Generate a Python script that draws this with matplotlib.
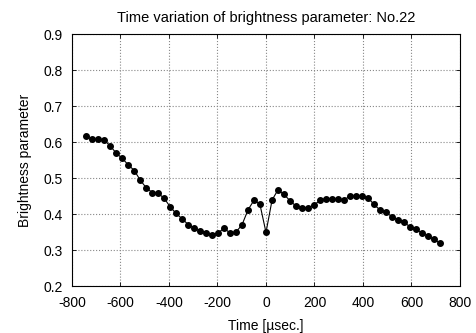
import matplotlib
matplotlib.use("Agg")
import matplotlib.pyplot as plt

times = [-741, -716, -692, -667, -642, -618, -593, -568, -543, -519,
         -494, -469, -445, -420, -395, -371, -346, -321, -296, -272,
         -247, -222, -198, -173, -148, -124, -99, -74, -49, -25,
         0, 25, 49, 74, 99, 124, 148, 173, 198, 222,
         247, 272, 296, 321, 346, 371, 395, 420, 445, 469,
         494, 519, 543, 568, 593, 618, 642, 667, 692, 716]
brightness = [0.616, 0.608, 0.608, 0.606, 0.589, 0.570, 0.555, 0.537, 0.521, 0.495,
              0.473, 0.460, 0.458, 0.444, 0.420, 0.402, 0.387, 0.371, 0.360, 0.353,
              0.348, 0.342, 0.347, 0.361, 0.347, 0.350, 0.370, 0.412, 0.439, 0.427,
              0.349, 0.439, 0.467, 0.455, 0.437, 0.422, 0.418, 0.418, 0.425, 0.438,
              0.443, 0.442, 0.441, 0.440, 0.449, 0.450, 0.450, 0.446, 0.427, 0.412,
              0.405, 0.393, 0.384, 0.378, 0.365, 0.358, 0.348, 0.339, 0.330, 0.320]

xticks = [-800, -600, -400, -200, 0, 200, 400, 600, 800]
yticks = [0.2, 0.3, 0.4, 0.5, 0.6, 0.7, 0.8, 0.9]

plt.rcParams['font.family'] = ['Liberation Sans', 'DejaVu Sans']
fig = plt.figure(figsize=(4.77, 3.33), dpi=100)
ax = fig.add_axes([72/477, 1-286/333, (460-72)/477, (286-34.3)/333])
ax.plot(times, brightness, color='black', linewidth=0.8, marker='o',
        markersize=4.0, markerfacecolor='black', markeredgecolor='black')
ax.set_xlim(-800, 800)
ax.set_ylim(0.2, 0.9)
ax.set_xticks(xticks)
ax.set_yticks(yticks)
ax.set_xticklabels([str(t) for t in xticks])
ax.set_yticklabels([f"{v:.1f}" for v in yticks])
ax.grid(True, color='#888888', linestyle=':', linewidth=0.8)
ax.tick_params(axis='x', pad=7.5)
ax.tick_params(axis='y', pad=6.5)
ax.tick_params(direction='in', length=3, labelsize=10, top=True, right=True, width=0.6)
for s in ax.spines.values():
    s.set_linewidth(0.8)
ax.set_xlabel('Time [µsec.]', fontsize=10, labelpad=6)
ax.set_ylabel('Brightness parameter', fontsize=10, labelpad=8)
ax.set_title('Time variation of brightness parameter: No.22', fontsize=10.5, pad=9)
fig.savefig('out.png', dpi=100)
